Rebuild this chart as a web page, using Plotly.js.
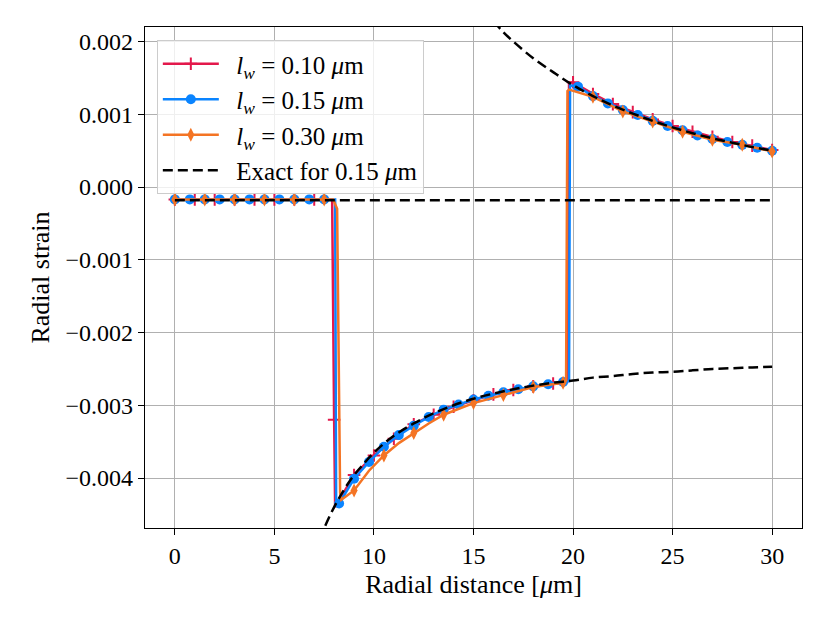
<!DOCTYPE html>
<html>
<head>
<meta charset="utf-8">
<script src="https://cdn.plot.ly/plotly-3.0.1.min.js"></script>
<style>
  body { margin: 0; background: #fff; }
  #chart { width: 830px; height: 623px; }
</style>
</head>
<body>
<div id="chart"></div>
<script>
// l_w = 0.10 um  (markers every 1.0)
var redX = [0, 1, 2, 3, 4, 5, 6, 7, 7.9, 8, 8.05,
            9, 10, 11, 12, 13, 14, 15, 16, 17, 18, 19, 19.7, 19.8,
            20, 21, 22, 23, 24, 25, 26, 27, 28, 29, 30];
var redY = [-0.00017, -0.00017, -0.00017, -0.00017, -0.00017, -0.00017, -0.00017, -0.00017, -0.00017, -0.0032, -0.0044,
            -0.00396, -0.00369, -0.00346, -0.00326, -0.00313, -0.00302, -0.00293, -0.00285, -0.00279, -0.00274, -0.00270, -0.00268, 0.00143,
            0.00144, 0.00128, 0.00114, 0.00103, 0.00093, 0.00084, 0.00076, 0.00069, 0.00062, 0.00057, 0.00051];

// l_w = 0.15 um  (markers every 0.75)
var blueX = [0, 0.75, 1.5, 2.25, 3, 3.75, 4.5, 5.25, 6, 6.75, 7.5, 8.05, 8.1,
             8.25, 9, 9.75, 10.5, 11.25, 12, 12.75, 13.5, 14.25, 15, 15.75, 16.5, 17.25, 18, 18.75, 19.5, 19.8, 19.85,
             20.25, 21, 21.75, 22.5, 23.25, 24, 24.75, 25.5, 26.25, 27, 27.75, 28.5, 29.25, 30];
var blueY = [-0.00017, -0.00017, -0.00017, -0.00017, -0.00017, -0.00017, -0.00017, -0.00017, -0.00017, -0.00017, -0.00017, -0.00017, -0.0043,
             -0.00435, -0.00401, -0.00378, -0.00357, -0.00341, -0.00328, -0.00316, -0.00306, -0.00299, -0.00292, -0.00287, -0.00282, -0.00278, -0.00274, -0.00271, -0.00268, -0.00267, 0.00140,
             0.00138, 0.00125, 0.00115, 0.00106, 0.00099, 0.00091, 0.00084, 0.00078, 0.00071, 0.00066, 0.00062, 0.00058, 0.00054, 0.00050];

// l_w = 0.30 um  (markers every 1.5)
var orangeX = [0, 1.5, 3, 4.5, 6, 7.5, 7.95, 8.15, 8.3, 8.36,
               9, 9.75, 10.5, 11.25, 12, 12.75, 13.5, 15, 16.5, 18, 19.5, 19.65, 19.72, 19.8,
               21, 22.5, 24, 25.5, 27, 28.5, 30];
var orangeY = [-0.00017, -0.00017, -0.00017, -0.00017, -0.00017, -0.00017, -0.00017, -0.0003, -0.0042, -0.0043,
               -0.00417, -0.00390, -0.00369, -0.00352, -0.00338, -0.00325, -0.00313, -0.00297, -0.00286, -0.00275, -0.00269, -0.00266, 0.00132, 0.00134,
               0.00124, 0.00104, 0.00090, 0.00076, 0.00065, 0.00058, 0.00049];

// exact solution, three branches
var exactX = [0, 30, null,
              7, 7.5, 8, 8.5, 9, 9.5, 10, 11, 12, 13, 14, 15, 16, 17, 18, 19, 20, 21, 22, 23, 24, 25, 26, 27, 28, 29, 30, null,
              16, 16.5, 17, 18, 19, 20, 21, 22, 23, 24, 25, 26, 27, 28, 29, 30];
var exactY = [-0.00018, -0.00018, null,
              -0.00504, -0.00469, -0.00440, -0.00416, -0.00396, -0.00380, -0.00365, -0.00342, -0.00325, -0.00311, -0.00300, -0.00291,
              -0.00284, -0.00278, -0.00273, -0.00269, -0.00266, -0.00262, -0.00260, -0.00257, -0.00255, -0.00254, -0.00252, -0.00250, -0.00249, -0.00248, -0.00247, null,
              0.00228, 0.00213, 0.00200, 0.00177, 0.00158, 0.00140, 0.00125, 0.00112, 0.00101, 0.00091, 0.00082, 0.00074, 0.00067, 0.00061, 0.00055, 0.00050];

var gap = '\u00a0\u00a0';
var names = [gap + '<i>l</i><sub><i>w</i></sub> = 0.10 <i>μ</i>m',
             gap + '<i>l</i><sub><i>w</i></sub> = 0.15 <i>μ</i>m',
             gap + '<i>l</i><sub><i>w</i></sub> = 0.30 <i>μ</i>m',
             gap + 'Exact for 0.15 <i>μ</i>m'];

var red = '#e3184b', blue = '#0a84ff', orange = '#f47424';

function every(xs, ys, step) {
  var mx = [], my = [];
  for (var i = 0; i < xs.length; i++) {
    var r = xs[i] / step;
    if (Math.abs(r - Math.round(r)) < 1e-9) { mx.push(xs[i]); my.push(ys[i]); }
  }
  return {x: mx, y: my};
}

var redM = { symbol: 'cross-thin', size: 9, line: {color: red, width: 2}, color: red };
var blueM = { symbol: 'circle', size: 10, color: blue };
var orangeM = { symbol: 'diamond-tall', size: 10, color: orange };

function series(xs, ys, step, color, marker) {
  var m = every(xs, ys, step);
  return [
    { x: xs, y: ys, type: 'scatter', mode: 'lines', showlegend: false, hoverinfo: 'x+y',
      line: {color: color, width: 2.5} },
    { x: m.x, y: m.y, type: 'scatter', mode: 'markers', showlegend: false, hoverinfo: 'x+y',
      marker: marker }
  ];
}

// legend-only entries (line with marker)
function legendOnly(name, color, marker) {
  return { x: [null], y: [null], type: 'scatter', mode: 'lines+markers', name: name,
           line: {color: color, width: 2.5}, marker: marker };
}

var data = [
  legendOnly(names[0], red, redM),
  legendOnly(names[1], blue, blueM),
  legendOnly(names[2], orange, orangeM)
].concat(
  series(redX, redY, 1, red, redM),
  series(blueX, blueY, 0.75, blue, blueM),
  series(orangeX, orangeY, 1.5, orange, orangeM),
  [{ x: exactX, y: exactY, type: 'scatter', mode: 'lines', name: names[3],
     connectgaps: false, line: {color: '#000', width: 2.5, dash: '10px,5px', shape: 'spline'} }]
);

var font = { family: 'Liberation Serif, Times New Roman, serif', size: 24, color: '#000' };
var bigFont = { family: 'Liberation Serif, Times New Roman, serif', size: 26, color: '#000' };
var legFont = { family: 'Liberation Serif, Times New Roman, serif', size: 25, color: '#000' };

var layout = {
  width: 830,
  height: 623,
  font: font,
  paper_bgcolor: '#fff',
  plot_bgcolor: '#fff',
  margin: { l: 145, r: 28, t: 27, b: 95 },
  showlegend: true,
  legend: {
    x: 0.018, y: 0.974, xanchor: 'left', yanchor: 'top',
    bgcolor: 'rgba(255,255,255,0.8)',
    bordercolor: '#cccccc',
    borderwidth: 1,
    font: legFont,
    itemwidth: 56,
    traceorder: 'normal'
  },
  xaxis: {
    range: [-1.5, 31.5],
    tickvals: [0, 5, 10, 15, 20, 25, 30],
    ticks: 'outside', ticklen: 6, tickwidth: 1.3, tickcolor: '#000',
    showline: true, mirror: true, linecolor: '#000', linewidth: 1.3,
    showgrid: true, gridcolor: '#b0b0b0', gridwidth: 1.4,
    zeroline: false,
    title: { text: 'Radial distance [<i>μ</i>m]', font: bigFont, standoff: 6 }
  },
  yaxis: {
    range: [-0.004687, 0.0022],
    tickvals: [-0.004, -0.003, -0.002, -0.001, 0, 0.001, 0.002],
    tickformat: '.3f',
    ticks: 'outside', ticklen: 6, tickwidth: 1.3, tickcolor: '#000',
    showline: true, mirror: true, linecolor: '#000', linewidth: 1.3,
    showgrid: true, gridcolor: '#b0b0b0', gridwidth: 1.4,
    zeroline: false,
    title: { text: 'Radial strain', font: bigFont, standoff: 8 }
  }
};

var config = { responsive: false, displayModeBar: false };

Plotly.newPlot('chart', data, layout, config);
</script>
</body>
</html>
